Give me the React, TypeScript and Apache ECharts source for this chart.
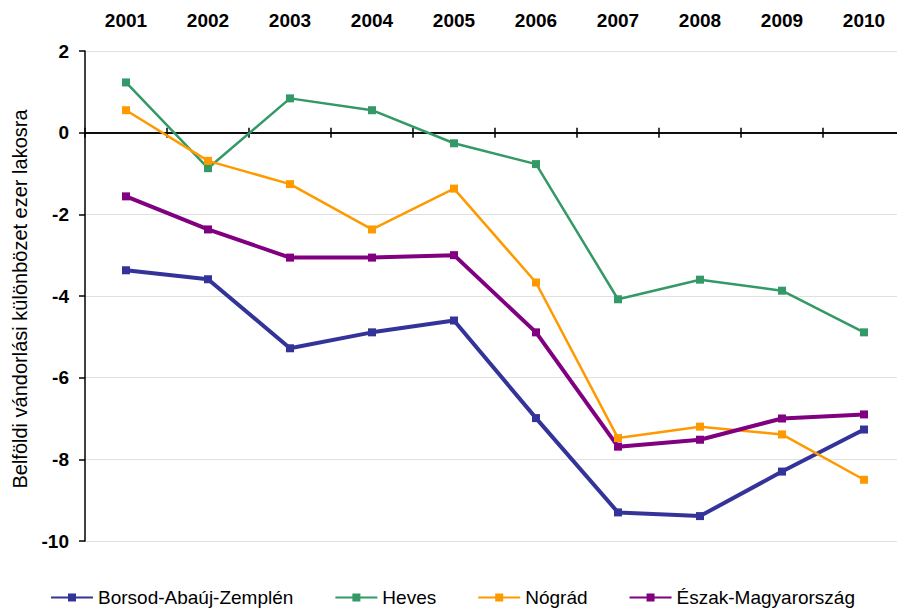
import React, { useEffect, useRef } from "react";
import * as echarts from "echarts";

const years = ["2001", "2002", "2003", "2004", "2005", "2006", "2007", "2008", "2009", "2010"];
const borsod = [-3.37, -3.59, -5.28, -4.89, -4.6, -6.99, -9.3, -9.39, -8.3, -7.27];
const heves = [1.23, -0.87, 0.84, 0.55, -0.26, -0.77, -4.08, -3.6, -3.87, -4.89];
const nograd = [0.55, -0.69, -1.26, -2.37, -1.37, -3.67, -7.48, -7.2, -7.39, -8.5];
const eszak = [-1.56, -2.37, -3.06, -3.06, -3.0, -4.89, -7.69, -7.52, -7.0, -6.9];

const FONT = "'Liberation Sans', Arial, sans-serif";

export default function App() {
  const ref = useRef<HTMLDivElement>(null);
  useEffect(() => {
    if (!ref.current) return;
    const chart = echarts.init(ref.current, undefined, { renderer: "svg" });
    const mk = (name: string, data: number[], color: string, width: number) => ({
      name,
      type: "line",
      data,
      xAxisIndex: 0,
      symbol: "rect",
      symbolSize: 8,
      lineStyle: { color, width },
      itemStyle: { color },
      z: 3,
    });
    const zeroAxis = (position: string) => ({
      type: "category",
      data: years,
      position,
      boundaryGap: true,
      axisLine: { show: true, onZero: true, onZeroAxisIndex: 0, lineStyle: { color: "#000", width: 1.5 } },
      axisTick: { show: true, length: 5, lineStyle: { color: "#000", width: 1.5 } },
      axisLabel: { show: false },
      splitLine: { show: false },
    });
    chart.setOption({
      animation: false,
      textStyle: { fontFamily: FONT },
      grid: { left: 85, right: 0, top: 51, bottom: 70 },
      legend: {
        top: 583,
        left: 45,
        itemWidth: 42,
        itemHeight: 10,
        itemGap: 41,
        textStyle: { fontFamily: FONT, fontSize: 19, color: "#000" },
        data: ["Borsod-Abaúj-Zemplén", "Heves", "Nógrád", "Észak-Magyarország"],
      },
      xAxis: [
        {
          type: "category",
          data: years,
          position: "top",
          boundaryGap: true,
          axisLine: { show: false, onZero: false },
          axisTick: { show: false },
          axisLabel: { fontFamily: FONT, fontSize: 19, fontWeight: "bold", color: "#000", margin: 21 },
          splitLine: { show: false },
        },
        zeroAxis("bottom"),
        zeroAxis("top"),
      ],
      yAxis: {
        type: "value",
        min: -10,
        max: 2,
        interval: 2,
        name: "Belföldi vándorlási különbözet ezer lakosra",
        nameLocation: "middle",
        nameRotate: 90,
        nameGap: 55,
        nameTextStyle: { fontFamily: FONT, fontSize: 20, color: "#000", padding: [0, 6, 0, 0] },
        axisLine: { show: true, onZero: false, lineStyle: { color: "#000", width: 1.5 } },
        axisTick: { show: true, length: 6, lineStyle: { color: "#000", width: 1.5 } },
        axisLabel: { fontFamily: FONT, fontSize: 19, fontWeight: "bold", color: "#000", margin: 16 },
        splitLine: { show: true, lineStyle: { color: "#e0e0e0", width: 1 } },
      },
      series: [
        mk("Borsod-Abaúj-Zemplén", borsod, "#333399", 4),
        mk("Heves", heves, "#339966", 2.5),
        mk("Nógrád", nograd, "#FF9900", 2.5),
        mk("Észak-Magyarország", eszak, "#800080", 4),
      ],
    });
    return () => chart.dispose();
  }, []);
  return (
    <div style={{ width: 897, height: 611, position: "absolute", left: 0, top: 0, overflow: "hidden" }}>
      <div ref={ref} style={{ width: 905, height: 611 }} />
    </div>
  );
}
